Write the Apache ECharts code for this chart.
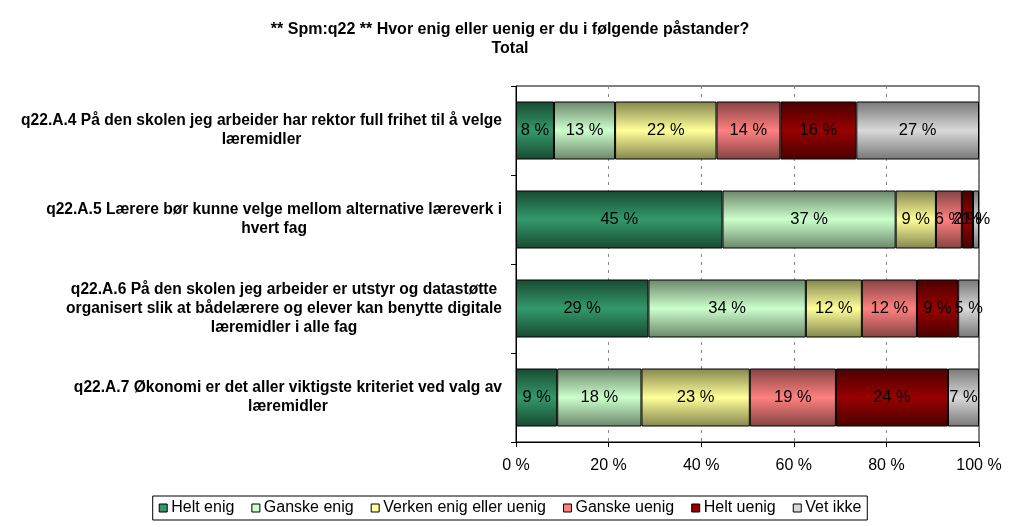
<!DOCTYPE html>
<html>
<head>
<meta charset="utf-8">
<title>q22</title>
<script src="https://cdn.jsdelivr.net/npm/echarts@6/dist/echarts.min.js"></script>
<style>
  html, body { margin: 0; padding: 0; background: #fff; }
  #chart { width: 1020px; height: 527px; }
</style>
</head>
<body>
<div id="chart"></div>
<script>
const categories = [
  'q22.A.4 På den skolen jeg arbeider har rektor full frihet til å velge\nlæremidler',
  'q22.A.5 Lærere bør kunne velge mellom alternative læreverk i\nhvert fag',
  'q22.A.6 På den skolen jeg arbeider er utstyr og datastøtte\norganisert slik at bådelærere og elever kan benytte digitale\nlæremidler i alle fag',
  'q22.A.7 Økonomi er det aller viktigste kriteriet ved valg av\nlæremidler'
]
const seriesNames = ['Helt enig', 'Ganske enig', 'Verken enig eller uenig', 'Ganske uenig', 'Helt uenig', 'Vet ikke']

// share in % per statement
const heltEnig = [8.2, 44.6, 28.6, 8.9]
const ganskeEnig = [13.2, 37.4, 34.0, 18.2]
const verken = [21.9, 8.7, 12.1, 23.4]
const ganskeUenig = [13.8, 5.6, 11.9, 18.6]
const heltUenig = [16.4, 2.4, 8.9, 24.2]
const vetIkke = [26.5, 1.3, 4.5, 6.7]

const xTicks = [0, 20, 40, 60, 80, 100]

const centerColors = ['#33996a', '#ccffcc', '#ffff99', '#ff8080', '#990000', '#d9d9d9']
const edgeColors = ['#184a31', '#6b866b', '#85854f', '#844343', '#4a0000', '#777777']

const font = '"Liberation Sans", Arial, sans-serif'

const chart = echarts.init(document.getElementById('chart'))

const values = [heltEnig, ganskeEnig, verken, ganskeUenig, heltUenig, vetIkke]

chart.setOption({
  animation: false,
  textStyle: { fontFamily: font },
  title: {
    text: '** Spm:q22 ** Hvor enig eller uenig er du i følgende påstander?\nTotal',
    left: 'center',
    top: 15,
    textStyle: {
      fontFamily: font,
      fontSize: 16,
      fontWeight: 'bold',
      color: '#000',
      lineHeight: 19
    }
  },
  legend: {
    data: seriesNames.map((n, i) => ({
      name: n,
      itemStyle: { color: centerColors[i], borderColor: '#000', borderWidth: 1 }
    })),
    left: 'center',
    bottom: 7,
    icon: 'rect',
    itemWidth: 8,
    itemHeight: 8,
    itemGap: 17,
    padding: [4, 6],
    borderColor: '#000',
    borderWidth: 1,
    textStyle: { fontFamily: font, fontSize: 16, color: '#000', padding: [0, 0, 0, -1] }
  },
  grid: {
    left: 516,
    right: 41,
    top: 86,
    bottom: 85,
    show: true,
    borderColor: '#000',
    borderWidth: 1
  },
  xAxis: {
    type: 'value',
    min: xTicks[0],
    max: xTicks[xTicks.length - 1],
    interval: xTicks[1] - xTicks[0],
    axisLine: { show: true, lineStyle: { color: '#000', width: 1 } },
    axisTick: { show: true, length: 5, lineStyle: { color: '#000' } },
    axisLabel: {
      formatter: '{value} %',
      fontFamily: font,
      fontSize: 16,
      color: '#000',
      margin: 16
    },
    splitLine: {
      show: true,
      lineStyle: { color: '#888', type: [3, 5], width: 1 }
    }
  },
  yAxis: {
    type: 'category',
    data: categories,
    inverse: true,
    axisLine: { show: true, lineStyle: { color: '#000', width: 1 } },
    axisTick: { show: true, length: 5, lineStyle: { color: '#000' } },
    axisLabel: {
      margin: 14,
      formatter: v => v.split('\n').map(l => '{c|' + l + '}').join('\n'),
      rich: {
        c: {
          align: 'center',
          fontFamily: font,
          fontSize: 15.6,
          fontWeight: 'bold',
          color: '#000',
          lineHeight: 19
        }
      }
    }
  },
  series: seriesNames.map((name, i) => ({
    name: name,
    type: 'bar',
    stack: 'total',
    barWidth: 58,
    data: values[i],
    itemStyle: {
      color: new echarts.graphic.LinearGradient(0, 0, 0, 1, [
        { offset: 0, color: edgeColors[i] },
        { offset: 0.5, color: centerColors[i] },
        { offset: 1, color: edgeColors[i] }
      ]),
      borderColor: '#000',
      borderWidth: 1
    },
    label: {
      show: true,
      position: 'inside',
      formatter: p => Math.round(p.value) + ' %',
      fontFamily: font,
      fontSize: 16.5,
      color: '#000'
    },
    emphasis: { disabled: true }
  }))
})
</script>
</body>
</html>
